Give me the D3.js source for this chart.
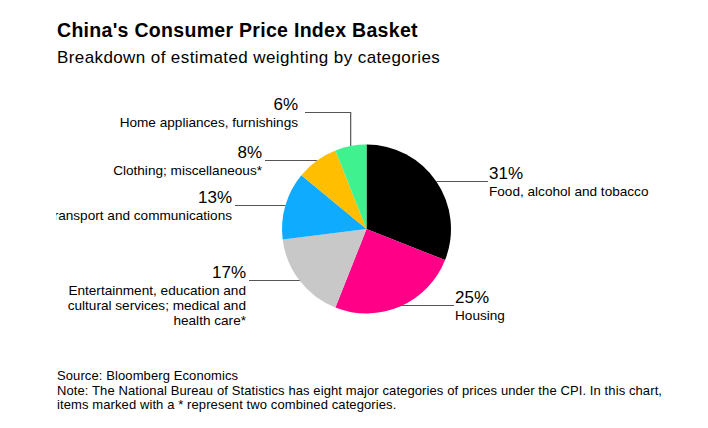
<!DOCTYPE html>
<html><head><meta charset="utf-8">
<script src="https://cdn.jsdelivr.net/npm/d3@7"></script>
<style>
body{margin:0;background:#fff;}
svg{display:block;font-family:"Liberation Sans",Arial,sans-serif;}
</style></head>
<body><svg id="c" width="708" height="428"></svg>
<script>
const categories = ["Food, alcohol and tobacco","Housing","Entertainment, education and cultural services; medical and health care*","Transport and communications","Clothing; miscellaneous*","Home appliances, furnishings"];
const labelLines = [["Food, alcohol and tobacco"],["Housing"],["Entertainment, education and","cultural services; medical and","health care*"],["Transport and communications"],["Clothing; miscellaneous*"],["Home appliances, furnishings"]];
const values = [31,25,17,13,8,6];
const colors = ["#000000","#ff0087","#c8c8c8","#0fabff","#ffbf00","#3ff28f"];

// layout (label anchor positions)
const layout = [
  {side:"right", x:489, y:179},
  {side:"right", x:455, y:303},
  {side:"left",  x:246, y:278},
  {side:"left",  x:232, y:203},
  {side:"left",  x:262, y:158},
  {side:"left",  x:298, y:110, elbow:true}
];

const svg = d3.select("#c");
const cx = 366.5, cy = 229, r = 84.5;

svg.append("text").attr("x",57).attr("y",37).attr("font-size",19.5).attr("letter-spacing",0.3).attr("font-weight","bold").attr("fill","#000").text("China's Consumer Price Index Basket");
svg.append("text").attr("x",57).attr("y",63).attr("font-size",17).attr("letter-spacing",0.4).attr("fill","#000").text("Breakdown of estimated weighting by categories");

const pie = d3.pie().sort(null).value(d=>d);
const arcs = pie(values);
const arc = d3.arc().innerRadius(0).outerRadius(r);
const edge = d3.arc().innerRadius(r).outerRadius(r);

const g = svg.append("g").attr("transform",`translate(${cx},${cy})`);
g.selectAll("path").data(arcs).join("path").attr("d",arc).attr("fill",(d,i)=>colors[i]);

svg.append("defs").append("clipPath").attr("id","clipL").append("rect").attr("x",56).attr("y",0).attr("width",652).attr("height",428);

const fmt = d3.format("d");
arcs.forEach((a,i)=>{
  const L = layout[i];
  const [ex,ey] = edge.centroid(a);
  const px = cx+ex, py = cy+ey;
  const lineY = L.y+2.5;
  let pts;
  if (L.elbow) {
    pts = [[px,py],[px,lineY],[L.x+7,lineY]];
  } else if (L.side==="right") {
    pts = [[px,lineY],[L.x-1,lineY]];
  } else {
    pts = [[px,lineY],[L.x+3,lineY]];
  }
  svg.append("path").attr("d",d3.line()(pts)).attr("fill","none").attr("stroke","#555").attr("stroke-width",1.2);
  const anchor = L.side==="right" ? "start" : "end";
  svg.append("text").attr("x",L.x).attr("y",L.y).attr("font-size",17).attr("text-anchor",anchor).attr("fill","#000").text(fmt(values[i])+"%");
  const t = svg.append("text").attr("x",L.x).attr("text-anchor",anchor).attr("font-size",13.6).attr("fill","#000").attr("clip-path","url(#clipL)");
  labelLines[i].forEach((ln,k)=>{
    t.append("tspan").attr("x",L.x).attr("y",L.y+16.5+k*15).text(ln);
  });
});

const foot = ["Source: Bloomberg Economics","Note: The National Bureau of Statistics has eight major categories of prices under the CPI. In this chart,","items marked with a * represent two combined categories."];
foot.forEach((f,k)=>svg.append("text").attr("x",57).attr("y",380+k*14.5).attr("font-size",13).attr("letter-spacing",0.1).attr("fill","#000").text(f));
</script></body></html>
